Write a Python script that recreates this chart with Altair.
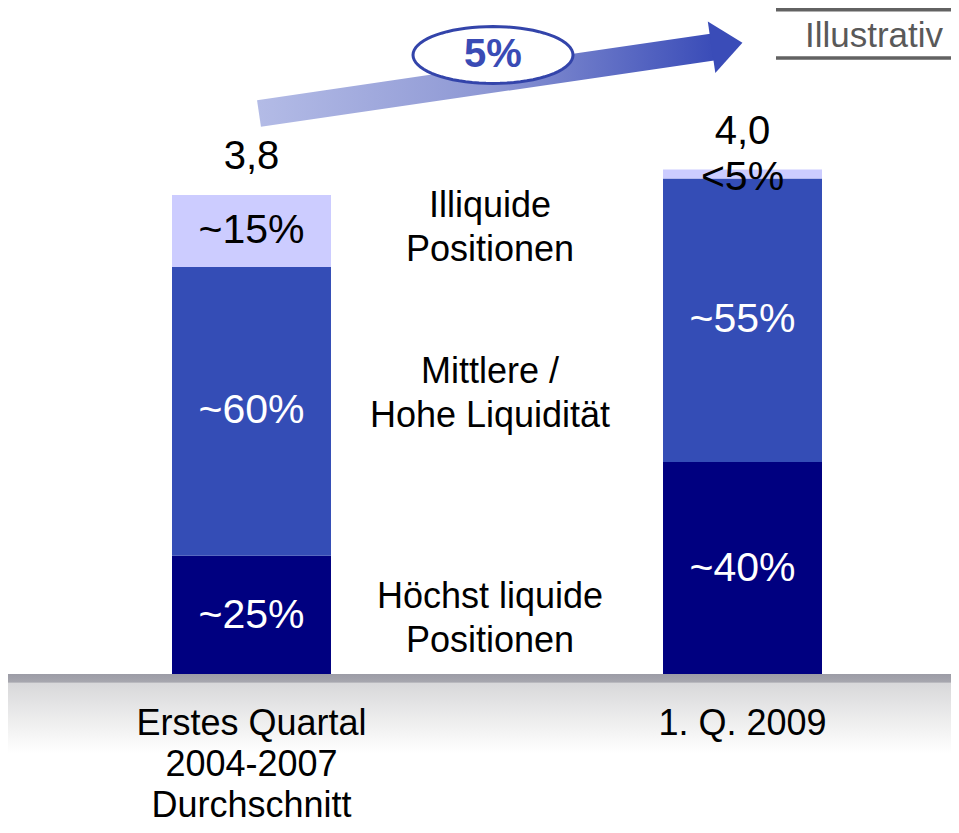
import altair as alt
import pandas as pd
import numpy as np

# ---------------- data ----------------
categories = ["avg", "q1_2009"]
category_lines = [["Erstes Quartal", "2004-2007", "Durchschnitt"], ["1. Q. 2009"]]
segments = ["Höchst liquide", "Mittlere / Hohe", "Illiquide"]
values_avg = [0.95, 2.28, 0.57]
values_2009 = [1.69, 2.24, 0.07]
labels_avg = ["~25%", "~60%", "~15%"]
labels_2009 = ["~40%", "~55%", "<5%"]
totals = [3.8, 4.0]
total_labels = ["3,8", "4,0"]
desc_lines = [["Höchst liquide", "Positionen"], ["Mittlere /", "Hohe Liquidität"], ["Illiquide", "Positionen"]]
growth_label = "5%"
stamp_label = "Illustrativ"

# ---------------- styles ----------------
seg_colors = ["#000080", "#344db6", "#ccccff"]
seg_text_colors = ["white", "white", "black"]
desc_dy = [-19, -39, -25]
FONT = "Liberation Sans"

rows = []
for cat, vals, labs in [(categories[0], values_avg, labels_avg), (categories[1], values_2009, labels_2009)]:
    cum = 0.0
    for i, (v, l) in enumerate(zip(vals, labs)):
        y0, y1 = cum, cum + v
        ly = (y0 + y1) / 2 if v > 0.2 else y0
        rows.append(dict(cat=cat, seg=segments[i], y0=y0, y1=y1, label=l, ly=ly,
                         fill=seg_colors[i], tc=seg_text_colors[i]))
        cum = y1
df = pd.DataFrame(rows)

df_tot = pd.DataFrame(dict(cat=categories, total=totals, label=total_labels))
df_cat = pd.DataFrame(dict(cat=categories, lines=category_lines))
one = pd.DataFrame({"a": [0]})

W, H = 943, 817
xs = alt.X("cat:N", sort=categories, axis=None,
           scale=alt.Scale(range=[164, 814], paddingInner=0.6762, paddingOuter=0))
yscale = alt.Scale(domain=[-1.1769, 5.2765], nice=False, zero=False)

bars = alt.Chart(df).mark_bar(stroke=None).encode(
    x=xs,
    y=alt.Y("y0:Q", scale=yscale, axis=None),
    y2="y1:Q",
    color=alt.Color("fill:N", scale=None),
)

seg_text = alt.Chart(df).mark_text(font=FONT, fontSize=41, baseline="middle").encode(
    x=xs,
    y=alt.Y("ly:Q", scale=yscale, axis=None),
    text="label:N",
    color=alt.Color("tc:N", scale=None),
)

tot_text = alt.Chart(df_tot).mark_text(font=FONT, fontSize=40, baseline="middle", dy=-38, color="black").encode(
    x=xs,
    y=alt.Y("total:Q", scale=yscale, axis=None),
    text="label:N",
)

# baseline band with gradient
band = alt.Chart(one).mark_rect(
    color=alt.Gradient(
        gradient="linear", x1=0, y1=0, x2=0, y2=1,
        stops=[alt.GradientStop(color="#9c9ca6", offset=0),
               alt.GradientStop(color="#a6a6ae", offset=0.1),
               alt.GradientStop(color="#d8d8da", offset=0.12),
               alt.GradientStop(color="#eeeeee", offset=0.6),
               alt.GradientStop(color="#ffffff", offset=1)])
).encode(x=alt.value(0), x2=alt.value(W), y=alt.value(666), y2=alt.value(745))

cat_text = alt.Chart(df_cat).mark_text(font=FONT, fontSize=36, baseline="top", lineHeight=41, color="black").encode(
    x=xs,
    y=alt.value(699),
    text="lines",
)

# descriptive labels between the bars (anchored on first bar's segment midpoints)
desc_layers = []
avg_rows = df[df.cat == categories[0]].reset_index(drop=True)
for i in range(3):
    d = pd.DataFrame(dict(ly=[avg_rows.loc[i, "ly"]], lines=[desc_lines[i]]))
    desc_layers.append(
        alt.Chart(d).mark_text(font=FONT, fontSize=36, baseline="middle", lineHeight=44,
                               color="black", dy=desc_dy[i]).encode(
            x=alt.value(482),
            y=alt.Y("ly:Q", scale=yscale, axis=None),
            text="lines",
        )
    )

# growth arrow
shaft = alt.Chart(one).mark_rule(
    strokeWidth=27, strokeCap="butt",
    stroke=alt.Gradient(
        gradient="linear", x1=0, y1=0, x2=1, y2=0,
        stops=[alt.GradientStop(color="#b3bbe6", offset=0),
               alt.GradientStop(color="#8e98d4", offset=0.5),
               alt.GradientStop(color="#3a4cb8", offset=1)])
).encode(x=alt.value(251), x2=alt.value(706), y=alt.value(105.5), y2=alt.value(38.8))

head = alt.Chart(one).mark_point(
    shape="M -0.6,-1 L 0.6,0 L -0.6,1 Z", size=52 * 52, filled=True, fill="#3a4cb8",
    stroke=None, opacity=1, angle=351.7
).encode(x=alt.value(719), y=alt.value(37))

t = np.linspace(0, 2 * np.pi, 73)[:-1]
ell_path = "M " + " L ".join(f"{np.cos(a):.4f},{0.356 * np.sin(a):.4f}" for a in t) + " Z"
ellipse = alt.Chart(one).mark_point(
    shape=ell_path, size=160 * 160, filled=False, fill="white", fillOpacity=1,
    stroke="#3344aa", strokeWidth=3, opacity=1
).encode(x=alt.value(485), y=alt.value(47))

growth = alt.Chart(one).mark_text(
    font=FONT, fontSize=40, fontWeight="bold", color="#3a4bb5", baseline="middle", text=growth_label
).encode(x=alt.value(485), y=alt.value(47))

# "Illustrativ" stamp
stamp_top = alt.Chart(one).mark_rule(stroke="#626262", strokeWidth=3.5).encode(
    x=alt.value(768), x2=alt.value(W), y=alt.value(1.75))
stamp_bot = alt.Chart(one).mark_rule(stroke="#626262", strokeWidth=3.5).encode(
    x=alt.value(768), x2=alt.value(W), y=alt.value(50))
stamp = alt.Chart(one).mark_text(
    font=FONT, fontSize=35, color="#595959", baseline="middle", text=stamp_label
).encode(x=alt.value(866), y=alt.value(28))

chart = alt.layer(
    bars, band, seg_text, tot_text, cat_text, *desc_layers,
    shaft, head, ellipse, growth, stamp_top, stamp_bot, stamp
).properties(
    width=W, height=H, padding=0, autosize=alt.AutoSizeParams(type="none")
).configure_view(stroke=None)

chart.save("out.html", embed_options={"renderer": "svg", "actions": False})
